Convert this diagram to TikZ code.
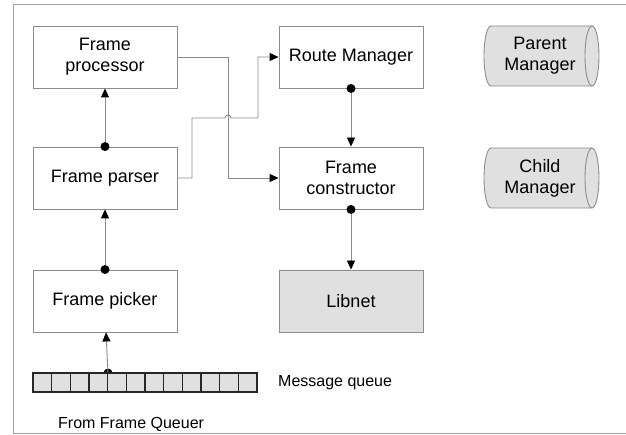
\documentclass[tikz,border=0pt]{standalone}
\usepackage{fontspec}
\setmainfont{Liberation Sans}
\usetikzlibrary{arrows.meta}
\definecolor{boxline}{HTML}{8C8C8C}
\definecolor{conline}{HTML}{8A8A8A}
\definecolor{boxfill}{HTML}{E0E0E0}
\definecolor{frameline}{HTML}{A0A0A0}
\tikzset{
  block/.style={draw=boxline, line width=0.9pt, minimum width=144pt, minimum height=62pt,
    inner sep=0pt, align=center, font=\fontsize{18}{21}\selectfont, text=black},
  grayblock/.style={block, fill=boxfill},
  conn/.style={draw=conline, line width=0.9pt, -{Triangle[length=9pt,width=8pt,color=black]}},
  dotmark/.style={fill=black},
  cyl/.style={draw=boxline, line width=0.9pt, fill=boxfill},
  cyltext/.style={align=center, font=\fontsize{18}{21}\selectfont, text=black, inner sep=0pt},
  plain/.style={font=\fontsize{16}{19}\selectfont, text=black, inner sep=0pt},
  queuecell/.style={draw=black!85, line width=1.1pt, fill=boxfill}
}
\begin{document}
\begin{tikzpicture}[x=1pt,y=-1pt]
\useasboundingbox (0,0) rectangle (626,435);
% outer frame (right side runs off the page)
\draw[frameline, line width=1pt] (630,5) -- (13,5) -- (13,433) -- (630,433);

% blocks
\node[block] (proc) at (105,57) {Frame\\processor};
\node[block] (parser) at (105,178) {Frame parser};
\node[block] (picker) at (105,301) {Frame picker};
\node[block] (rm) at (351,57) {Route Manager};
\node[block] (cons) at (351,178) {Frame\\constructor};
\node[grayblock] (libnet) at (351,301) {Libnet};

% vertical connectors
\draw[conn] (parser.north) -- (proc.south);
\fill[dotmark] (parser.north) circle (4.5);
\draw[conn] (picker.north) -- (parser.south);
\fill[dotmark] (picker.north) circle (4.5);
\draw[conn] (rm.south) -- (cons.north);
\fill[dotmark] (rm.south) circle (4.5);
\draw[conn] (cons.south) -- (libnet.north);
\fill[dotmark] (cons.south) circle (4.5);

% crossing connectors
\coordinate (j1) at (228,57);
\draw[conn] (proc.east) -- (j1) |- (cons.west);
\coordinate (k1) at (192,118);
\coordinate (h1) at (225,118);
\coordinate (k2) at (258,118);
\draw[conn] (parser.east) -| (k1) -- (h1) arc[start angle=180, end angle=360, radius=3] -- (k2) |- (rm.west);

% message queue
\coordinate (qdot) at (108,373);
\fill[dotmark] (qdot) circle (4.5);
\draw[conn] (qdot) -- ([xshift=1pt]picker.south);
\foreach \i in {0,...,11}{
  \draw[queuecell] ({33+\i*18.67},373) rectangle ({33+(\i+1)*18.67},392);
}
\node[plain, anchor=west] (mq) at (278,383) {Message queue};
\node[plain, anchor=west] (ffq) at (58,424) {From Frame Queuer};

% cylinders
\foreach \cy/\nm/\txt in {56/pm/{Parent\\Manager}, 178/cm/{Child\\Manager}}{
  \path[cyl] (491,\cy-30) -- (592,\cy-30)
     arc[start angle=-90, end angle=90, x radius=7, y radius=30]
     -- (491,\cy+30)
     arc[start angle=90, end angle=270, x radius=7, y radius=30] -- cycle;
  \draw[boxline, line width=0.9pt] (592,\cy-30) arc[start angle=270, end angle=90, x radius=7, y radius=30];
  \node[cyltext] (\nm) at (540,\cy) {\txt};
}
\end{tikzpicture}
\end{document}
